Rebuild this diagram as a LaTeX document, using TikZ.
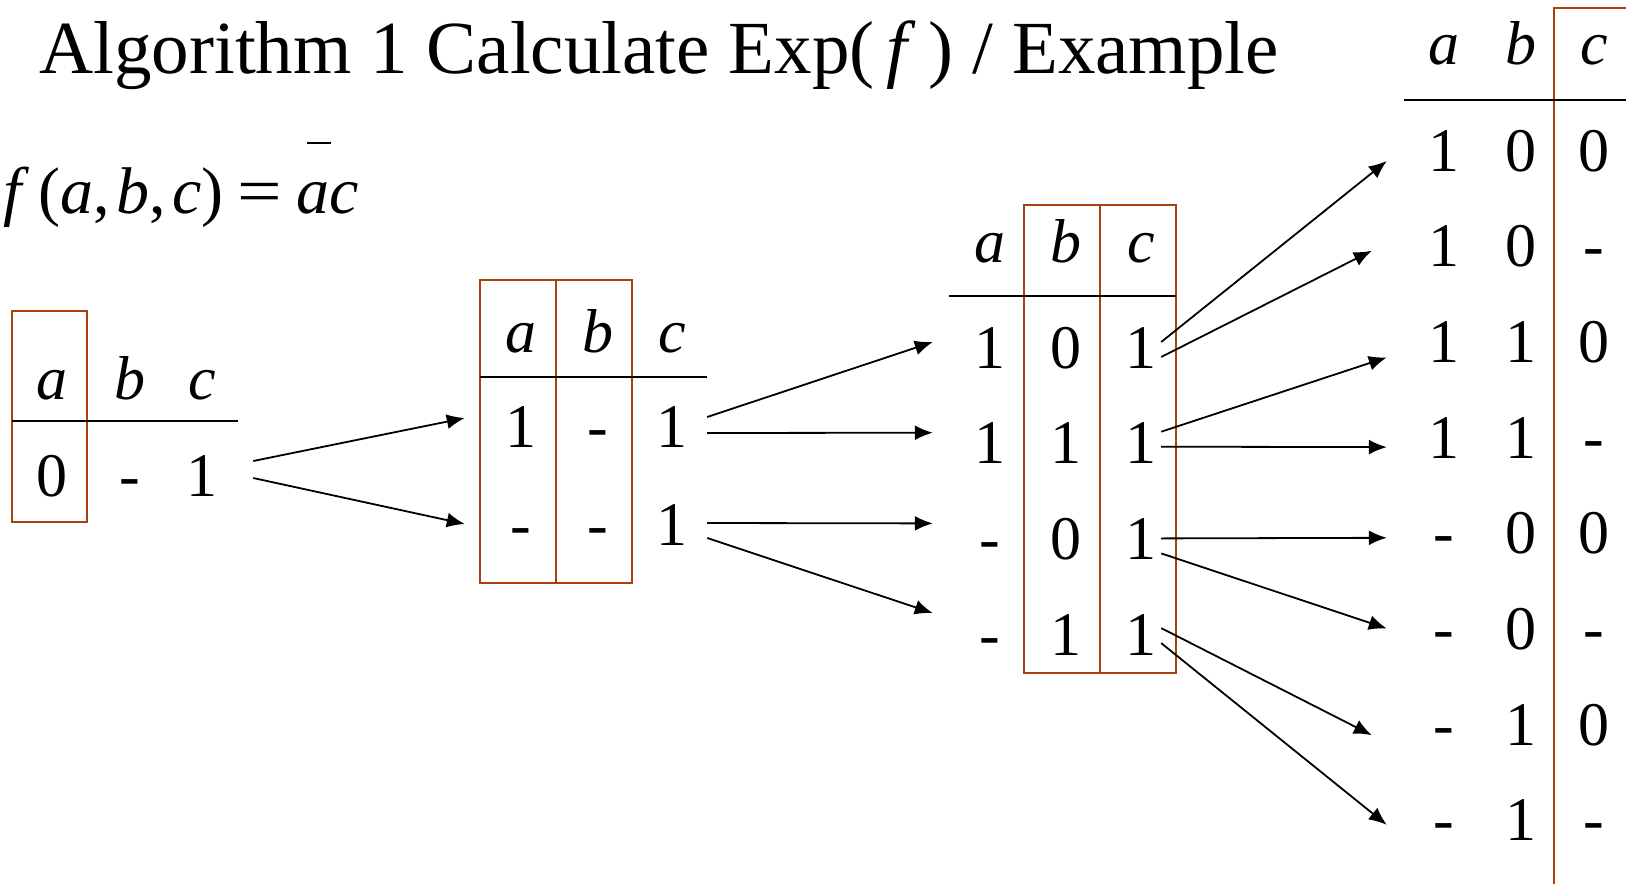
\documentclass[tikz,border=0pt]{standalone}
\usepackage{fontspec}
\setmainfont{Liberation Serif}
\usetikzlibrary{arrows.meta}
\definecolor{boxrust}{RGB}{168,64,16}
\newcommand{\negbar}[1]{\rlap{\hspace{0.16em}\raisebox{1.04em}{\rule{0.36em}{0.04em}}}#1}

\begin{document}
\begin{tikzpicture}[x=1pt,y=-1pt,every node/.style={inner sep=0pt},
  cell/.style={font=\fontsize{62}{62}\selectfont,text height=44pt,text depth=0pt,minimum width=32pt},
  colbox/.style={draw=boxrust,line width=2pt},
  headrule/.style={line width=2.8pt},
  flow/.style={-{Latex[length=18pt,width=15pt]},line width=1.8pt}]
\useasboundingbox (0,0) rectangle (1626,884);

\node[anchor=base west,font=\fontsize{75}{75}\selectfont] (title) at (39,73) {Algorithm 1 Calculate Exp(\,\textit{f}\,) / Example};
\node[anchor=base west,font=\fontsize{66}{66}\selectfont] (fdef) at (3,213) {\textit{f}\hspace{0.14em}(\textit{a},\hspace{0.1em}\textit{b},\hspace{0.1em}\textit{c})\hspace{0.2em}\scalebox{1.2}[1]{=}\hspace{0.22em}\negbar{\textit{a}}\textit{c}};

% table 1
\draw[colbox] (12,311) rectangle (87,522);
\draw[headrule] (12,421) -- (238,421);
\node[cell] (t1ha) at (52,377) {\textit{a}};
\node[cell] (t1hb) at (130,377) {\textit{b}};
\node[cell] (t1hc) at (202,377) {\textit{c}};
\node[cell] (t1a1) at (52,474) {0};
\node[cell] (t1b1) at (130,474) {-};
\node[cell] (t1c1) at (202,474) {1};

% table 2
\draw[colbox] (480,280) rectangle (556,583);
\draw[colbox] (556,280) rectangle (632,583);
\draw[headrule] (480,377) -- (707,377);
\node[cell] (t2ha) at (521,330) {\textit{a}};
\node[cell] (t2hb) at (598,330) {\textit{b}};
\node[cell] (t2hc) at (672,330) {\textit{c}};
\foreach \va/\vb/\vc/\yy [count=\r] in {1/-/1/425,-/-/1/523}{
  \node[cell] (t2a\r) at (521,\yy) {\va};
  \node[cell] (t2b\r) at (598,\yy) {\vb};
  \node[cell] (t2c\r) at (672,\yy) {\vc};
}

% table 3
\draw[colbox] (1024,205) rectangle (1100,673);
\draw[colbox] (1100,205) rectangle (1176,673);
\draw[headrule] (949,296) -- (1176,296);
\node[cell] (t3ha) at (990,240) {\textit{a}};
\node[cell] (t3hb) at (1066,240) {\textit{b}};
\node[cell] (t3hc) at (1141,240) {\textit{c}};
\foreach \va/\vb/\vc [count=\r] in {1/0/1,1/1/1,-/0/1,-/1/1}{
  \node[cell] (t3a\r) at (990,{346+95.7*(\r-1)}) {\va};
  \node[cell] (t3b\r) at (1066,{346+95.7*(\r-1)}) {\vb};
  \node[cell] (t3c\r) at (1141,{346+95.7*(\r-1)}) {\vc};
}

% table 4
\draw[colbox] (1554,884) -- (1554,8) -- (1626,8);
\draw[headrule] (1404,100) -- (1626,100);
\node[cell] (t4ha) at (1444,42) {\textit{a}};
\node[cell] (t4hb) at (1521,42) {\textit{b}};
\node[cell] (t4hc) at (1594,42) {\textit{c}};
\foreach \va/\vb/\vc [count=\r] in {1/0/0,1/0/-,1/1/0,1/1/-,-/0/0,-/0/-,-/1/0,-/1/-}{
  \node[cell] (t4a\r) at (1444,{149+95.7*(\r-1)}) {\va};
  \node[cell] (t4b\r) at (1521,{149+95.7*(\r-1)}) {\vb};
  \node[cell] (t4c\r) at (1594,{149+95.7*(\r-1)}) {\vc};
}

% expansions
\draw[flow] ([shift={(35,-13)}]t1c1.east) -- ([shift={(-40,-7)}]t2a1.west);
\draw[flow] ([shift={(35,4)}]t1c1.east) -- ([shift={(-40,1)}]t2a2.west);

\draw[flow] ([shift={(19,-8)}]t2c1.east) -- ([shift={(-41,-4)}]t3a1.west);
\draw[flow] ([shift={(19,8)}]t2c1.east) -- ([shift={(-41,-9)}]t3a2.west);
\draw[flow] ([shift={(19,0)}]t2c2.east) -- ([shift={(-41,-14)}]t3a3.west);
\draw[flow] ([shift={(19,15)}]t2c2.east) -- ([shift={(-41,-20)}]t3a4.west);

\draw[flow] ([shift={(4,-4)}]t3c1.east) -- ([shift={(-41,12)}]t4a1.west);
\draw[flow] ([shift={(4,11)}]t3c1.east) -- ([shift={(-56,6)}]t4a2.west);
\draw[flow] ([shift={(4,-10)}]t3c2.east) -- ([shift={(-41,17)}]t4a3.west);
\draw[flow] ([shift={(4,5)}]t3c2.east) -- ([shift={(-41,11)}]t4a4.west);
\draw[flow] ([shift={(4,1)}]t3c3.east) -- ([shift={(-41,6)}]t4a5.west);
\draw[flow] ([shift={(4,16)}]t3c3.east) -- ([shift={(-41,1)}]t4a6.west);
\draw[flow] ([shift={(4,-5)}]t3c4.east) -- ([shift={(-56,12)}]t4a7.west);
\draw[flow] ([shift={(4,10)}]t3c4.east) -- ([shift={(-41,6)}]t4a8.west);
\end{tikzpicture}
\end{document}
